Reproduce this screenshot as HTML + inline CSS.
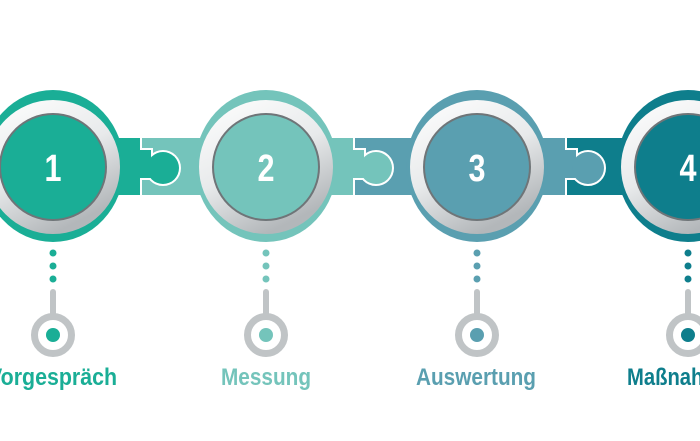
<!DOCTYPE html>
<html><head><meta charset="utf-8"><style>
html,body{margin:0;padding:0;background:#fff;width:700px;height:441px;overflow:hidden}
svg{display:block}
text{font-family:"Liberation Sans",sans-serif;font-weight:bold}
</style></head><body>
<svg width="700" height="441" viewBox="0 0 700 441" xmlns="http://www.w3.org/2000/svg">
<defs>
<linearGradient id="ring" x1="0" y1="0" x2="0.5" y2="1">
<stop offset="0" stop-color="#ffffff"/><stop offset="0.55" stop-color="#e8eaeb"/><stop offset="1" stop-color="#b3b7ba"/>
</linearGradient>
</defs>
<rect x="53" y="138" width="213" height="57" fill="#74c4bb"/>
<rect x="266" y="138" width="212" height="57" fill="#5a9fb0"/>
<rect x="478" y="138" width="222" height="57" fill="#0e7e8c"/>
<g stroke="#fff" stroke-width="4">
<g fill="#1aae96"><rect x="53" y="138" width="87" height="57"/><rect x="139" y="150" width="12" height="28"/><circle cx="163" cy="168" r="16"/></g>
<g fill="#74c4bb"><rect x="266" y="138" width="87" height="57"/><rect x="352" y="150" width="12" height="28"/><circle cx="376" cy="168" r="16"/></g>
<g fill="#5a9fb0"><rect x="478" y="138" width="87" height="57"/><rect x="564" y="150" width="12" height="28"/><circle cx="588" cy="168" r="16"/></g>
</g>
<g fill="#1aae96"><rect x="53" y="138" width="87" height="57"/><rect x="139" y="150" width="12" height="28"/><circle cx="163" cy="168" r="16"/></g>
<g fill="#74c4bb"><rect x="266" y="138" width="87" height="57"/><rect x="352" y="150" width="12" height="28"/><circle cx="376" cy="168" r="16"/></g>
<g fill="#5a9fb0"><rect x="478" y="138" width="87" height="57"/><rect x="564" y="150" width="12" height="28"/><circle cx="588" cy="168" r="16"/></g>
<rect x="40" y="136" width="100" height="61" fill="#1aae96"/>
<rect x="253" y="136" width="100" height="61" fill="#74c4bb"/>
<rect x="465" y="136" width="100" height="61" fill="#5a9fb0"/>
<rect x="53" y="136" width="87" height="2" fill="#fff"/><rect x="53" y="195" width="87" height="2" fill="#fff"/>
<rect x="266" y="136" width="87" height="2" fill="#fff"/><rect x="266" y="195" width="87" height="2" fill="#fff"/>
<rect x="478" y="136" width="87" height="2" fill="#fff"/><rect x="478" y="195" width="87" height="2" fill="#fff"/>
<g>
<ellipse cx="53" cy="166" rx="71" ry="76" fill="#1aae96"/>
<circle cx="53" cy="167" r="67" fill="url(#ring)"/>
<circle cx="53" cy="167" r="54" fill="#6f7578"/>
<circle cx="53" cy="167" r="52" fill="#1aae96"/>
<text x="53" y="181" font-size="38" fill="#fff" text-anchor="middle" textLength="17" lengthAdjust="spacingAndGlyphs">1</text>
</g>
<g>
<ellipse cx="266" cy="166" rx="71" ry="76" fill="#74c4bb"/>
<circle cx="266" cy="167" r="67" fill="url(#ring)"/>
<circle cx="266" cy="167" r="54" fill="#6f7578"/>
<circle cx="266" cy="167" r="52" fill="#74c4bb"/>
<text x="266" y="181" font-size="38" fill="#fff" text-anchor="middle" textLength="17" lengthAdjust="spacingAndGlyphs">2</text>
</g>
<g>
<ellipse cx="477" cy="166" rx="71" ry="76" fill="#5a9fb0"/>
<circle cx="477" cy="167" r="67" fill="url(#ring)"/>
<circle cx="477" cy="167" r="54" fill="#6f7578"/>
<circle cx="477" cy="167" r="52" fill="#5a9fb0"/>
<text x="477" y="181" font-size="38" fill="#fff" text-anchor="middle" textLength="17" lengthAdjust="spacingAndGlyphs">3</text>
</g>
<g>
<ellipse cx="688" cy="166" rx="71" ry="76" fill="#0e7e8c"/>
<circle cx="688" cy="167" r="67" fill="url(#ring)"/>
<circle cx="688" cy="167" r="54" fill="#6f7578"/>
<circle cx="688" cy="167" r="52" fill="#0e7e8c"/>
<text x="688" y="181" font-size="38" fill="#fff" text-anchor="middle" textLength="17" lengthAdjust="spacingAndGlyphs">4</text>
</g>
<g fill="#1aae96"><circle cx="53" cy="253" r="3.5"/><circle cx="53" cy="266" r="3.5"/><circle cx="53" cy="279" r="3.5"/></g>
<g fill="#74c4bb"><circle cx="266" cy="253" r="3.5"/><circle cx="266" cy="266" r="3.5"/><circle cx="266" cy="279" r="3.5"/></g>
<g fill="#5a9fb0"><circle cx="477" cy="253" r="3.5"/><circle cx="477" cy="266" r="3.5"/><circle cx="477" cy="279" r="3.5"/></g>
<g fill="#0e7e8c"><circle cx="688" cy="253" r="3.5"/><circle cx="688" cy="266" r="3.5"/><circle cx="688" cy="279" r="3.5"/></g>
<g stroke="#c0c4c6" fill="none">
<line x1="53" y1="292" x2="53" y2="315" stroke-width="6" stroke-linecap="round"/><circle cx="53" cy="335" r="18.5" stroke-width="7"/>
<line x1="266" y1="292" x2="266" y2="315" stroke-width="6" stroke-linecap="round"/><circle cx="266" cy="335" r="18.5" stroke-width="7"/>
<line x1="477" y1="292" x2="477" y2="315" stroke-width="6" stroke-linecap="round"/><circle cx="477" cy="335" r="18.5" stroke-width="7"/>
<line x1="688" y1="292" x2="688" y2="315" stroke-width="6" stroke-linecap="round"/><circle cx="688" cy="335" r="18.5" stroke-width="7"/>
</g>
<circle cx="53" cy="335" r="7" fill="#1aae96"/>
<circle cx="266" cy="335" r="7" fill="#74c4bb"/>
<circle cx="477" cy="335" r="7" fill="#5a9fb0"/>
<circle cx="688" cy="335" r="7" fill="#0e7e8c"/>
<text x="-12" y="385" font-size="24" fill="#1aae96" textLength="129" lengthAdjust="spacingAndGlyphs">Vorgespräch</text>
<text x="221" y="385" font-size="24" fill="#74c4bb" textLength="90" lengthAdjust="spacingAndGlyphs">Messung</text>
<text x="416" y="385" font-size="24" fill="#5a9fb0" textLength="120" lengthAdjust="spacingAndGlyphs">Auswertung</text>
<text x="627" y="385" font-size="24" fill="#0e7e8c" textLength="118" lengthAdjust="spacingAndGlyphs">Maßnahmen</text>
</svg>
</body></html>
